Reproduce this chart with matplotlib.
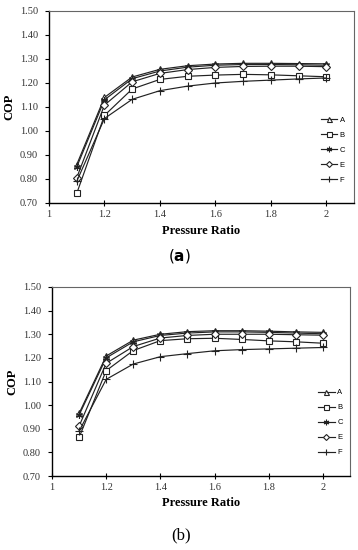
import numpy as np
import matplotlib.pyplot as plt

# значения давления (ось X)
pressure_ratio = [1.1, 1.2, 1.3, 1.4, 1.5, 1.6, 1.7, 1.8, 1.9, 2.0]
series_names = ["A", "B", "C", "E", "F"]

# панель (a)
cop_a_A = [0.86, 1.14, 1.225, 1.257, 1.272, 1.279, 1.282, 1.282, 1.281, 1.280]
cop_a_B = [0.74, 1.065, 1.175, 1.215, 1.228, 1.233, 1.236, 1.234, 1.230, 1.226]
cop_a_C = [0.85, 1.13, 1.218, 1.250, 1.266, 1.274, 1.277, 1.277, 1.276, 1.274]
cop_a_E = [0.805, 1.108, 1.205, 1.240, 1.256, 1.265, 1.269, 1.270, 1.270, 1.268]
cop_a_F = [0.79, 1.052, 1.132, 1.168, 1.187, 1.200, 1.207, 1.212, 1.217, 1.221]

# панель (b)
cop_b_A = [0.965, 1.208, 1.275, 1.300, 1.311, 1.315, 1.315, 1.313, 1.310, 1.308]
cop_b_B = [0.863, 1.146, 1.231, 1.273, 1.281, 1.283, 1.278, 1.272, 1.268, 1.262]
cop_b_C = [0.958, 1.200, 1.268, 1.295, 1.305, 1.310, 1.310, 1.308, 1.305, 1.302]
cop_b_E = [0.911, 1.177, 1.248, 1.284, 1.295, 1.300, 1.300, 1.300, 1.298, 1.296]
cop_b_F = [0.89, 1.109, 1.174, 1.205, 1.218, 1.230, 1.235, 1.238, 1.241, 1.244]

y_ticks = [0.70, 0.80, 0.90, 1.00, 1.10, 1.20, 1.30, 1.40, 1.50]
x_ticks = [1, 1.2, 1.4, 1.6, 1.8, 2]
x_tick_labels = ["1", "1.2", "1.4", "1.6", "1.8", "2"]

markers = {"A": "^", "B": "s", "C": (6, 2, 0), "E": "D", "F": "+"}
msizes = {"A": 4.5, "B": 4.5, "C": 5, "E": 3.8, "F": 6}

serif = ["Liberation Serif", "DejaVu Serif"]


def draw_panel(fig, rect, data, leg_anchor):
    ax = fig.add_axes(rect)
    for name, vals in zip(series_names, data):
        ax.plot(pressure_ratio, vals, color="#222222", linewidth=0.85,
                marker=markers[name], markersize=msizes[name],
                markerfacecolor="white", markeredgecolor="#222222",
                markeredgewidth=0.8, label=name)
    ax.set_xlim(1, 2.1)
    ax.set_ylim(0.70, 1.50)
    ax.set_xticks(x_ticks)
    ax.set_xticklabels(x_tick_labels, fontfamily=serif, fontsize=7.5, color="#333333")
    ax.set_yticks(y_ticks)
    ax.set_yticklabels([f"{v:.2f}" for v in y_ticks], fontfamily=serif,
                       fontsize=7.5, color="#333333")
    ax.tick_params(axis="x", direction="inout", length=4, width=0.8, pad=3)
    ax.tick_params(axis="y", direction="out", length=3, width=0.8, pad=5)
    for side in ["top", "right"]:
        ax.spines[side].set_color("#666666")
        ax.spines[side].set_linewidth(0.8)
    for side in ["left", "bottom"]:
        ax.spines[side].set_linewidth(1.0)
    ax.set_xlabel("Pressure Ratio", fontfamily=serif, fontweight="bold",
                  fontsize=9, labelpad=4)
    ax.set_ylabel("COP", fontfamily=serif, fontweight="bold", fontsize=9, labelpad=3)
    ax.legend(loc="upper left", bbox_to_anchor=leg_anchor, frameon=False,
              handlelength=2.2, handletextpad=0.3, markerscale=0.8,
              labelspacing=1.0, borderpad=0,
              prop={"family": "Liberation Sans", "size": 5.5})
    return ax


fig = plt.figure(figsize=(3.58, 5.50), dpi=100)

draw_panel(fig, [49 / 358, 1 - 203 / 550, 305 / 358, 192 / 550],
           [cop_a_A, cop_a_B, cop_a_C, cop_a_E, cop_a_F], (0.878, 0.47))
draw_panel(fig, [52 / 358, 1 - 476 / 550, 298 / 358, 189 / 550],
           [cop_b_A, cop_b_B, cop_b_C, cop_b_E, cop_b_F], (0.88, 0.48))

fig.text(179 / 358, 1 - 256 / 550, r"($\mathbf{a}$)", ha="center", va="center",
         fontsize=11, fontfamily="DejaVu Sans")
fig.text(181 / 358, 1 - 535 / 550, "(b)", ha="center", va="center",
         fontsize=12, fontfamily=serif)

fig.savefig("out.png", dpi=100)
